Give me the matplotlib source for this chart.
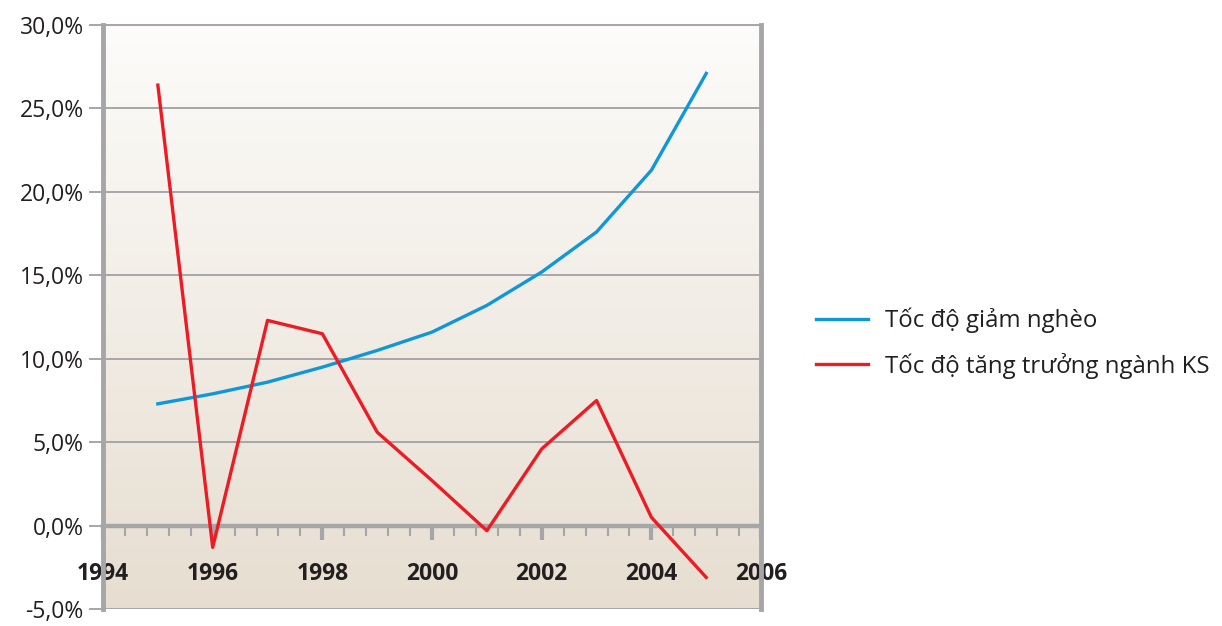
import matplotlib.pyplot as plt
import numpy as np
from matplotlib.ticker import FuncFormatter, MultipleLocator

years = [1995, 1996, 1997, 1998, 1999, 2000, 2001, 2002, 2003, 2004, 2005]
giam_ngheo = [7.3, 7.9, 8.6, 9.5, 10.5, 11.6, 13.2, 15.2, 17.6, 21.3, 27.1]
tang_truong_ks = [26.4, -1.3, 12.3, 11.5, 5.6, 2.7, -0.3, 4.6, 7.5, 0.5, -3.1]
labels = ['Tốc độ giảm nghèo', 'Tốc độ tăng trưởng ngành KS']

plt.rcParams['font.family'] = ['Open Sans', 'DejaVu Sans']

fig = plt.figure(figsize=(12.22, 6.26), dpi=100)
ax = fig.add_axes([0.0843, 0.027, 0.5385, 0.933])

# nền gradient trắng -> be
grad = np.linspace(0, 1, 256).reshape(-1, 1)
c_top = np.array([0.99, 0.988, 0.982])
c_bot = np.array([0.905, 0.870, 0.818])
img = c_top * (1 - grad)[..., None] + c_bot * grad[..., None]
ax.imshow(img, extent=[0, 1, 0, 1], transform=ax.transAxes, aspect='auto', zorder=0)

grid_c = '#a6a6a8'
ax.plot(years, giam_ngheo, color='#0f97d9', lw=2.4, label=labels[0], zorder=3)
ax.plot(years, tang_truong_ks, color='#ec1c24', lw=2.4, label=labels[1], zorder=3)

ax.set_xlim(1994, 2006)
ax.set_ylim(-5, 30)
ax.yaxis.set_major_locator(MultipleLocator(5))
ax.yaxis.set_major_formatter(FuncFormatter(lambda v, p: f"{v:.1f}%".replace('.', ',')))
ax.grid(axis='y', color=grid_c, lw=1.4, zorder=1)
ax.tick_params(axis='y', length=10, width=1.4, color=grid_c, labelsize=16.5, pad=4, labelcolor='#231f20')

ax.spines['bottom'].set_position(('data', 0))
ax.spines['bottom'].set_color(grid_c)
ax.spines['bottom'].set_linewidth(3.2)
ax.spines['bottom'].set_zorder(2)
ax.xaxis.set_major_locator(MultipleLocator(2))
ax.xaxis.set_minor_locator(MultipleLocator(0.4))
ax.tick_params(axis='x', which='major', direction='out', length=10, width=3, color=grid_c,
               labelsize=16.5, pad=16, labelcolor='#231f20')
ax.tick_params(axis='x', which='minor', direction='out', length=7, width=1.5, color=grid_c)
for t in ax.get_xticklabels():
    t.set_fontweight('bold')

ax.spines['left'].set_color(grid_c)
ax.spines['left'].set_linewidth(3.5)
ax.spines['right'].set_color(grid_c)
ax.spines['right'].set_linewidth(3.5)
ax.spines['top'].set_color(grid_c)
ax.spines['top'].set_linewidth(1.4)

ax.legend(loc='center left', bbox_to_anchor=(1.05, 0.455), frameon=False, fontsize=17.3,
          handlelength=2.2, handletextpad=0.7, labelspacing=0.8, labelcolor='#231f20')

fig.savefig('out.png', dpi=100)
